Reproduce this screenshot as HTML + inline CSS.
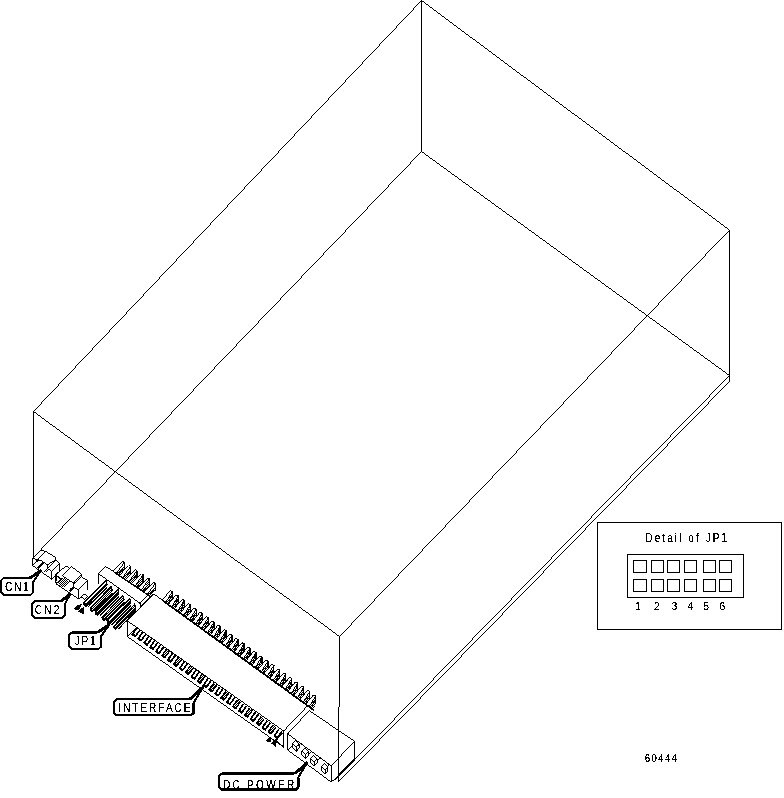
<!DOCTYPE html>
<html><head><meta charset="utf-8"><title>60444</title>
<style>
html,body{margin:0;padding:0;background:#fff;}
body{width:784px;height:798px;overflow:hidden;font-family:"Liberation Sans",sans-serif;}
svg{display:block;}
svg text{font-family:"Liberation Sans",sans-serif;fill:#000;stroke:none;}
</style></head><body>
<svg width="784" height="798" viewBox="0 0 784 798">
<defs><filter id="bw" x="0" y="0" width="100%" height="100%" color-interpolation-filters="sRGB"><feColorMatrix type="saturate" values="0"/><feComponentTransfer><feFuncR type="discrete" tableValues="0 0 1 1"/><feFuncG type="discrete" tableValues="0 0 1 1"/><feFuncB type="discrete" tableValues="0 0 1 1"/></feComponentTransfer></filter><filter id="ta" x="0" y="0" width="100%" height="100%" color-interpolation-filters="sRGB"><feComponentTransfer><feFuncA type="discrete" tableValues="0 0 0 0 1 1 1 1 1 1"/></feComponentTransfer></filter><pattern id="d" width="2" height="2" patternUnits="userSpaceOnUse"><rect x="0" y="0" width="1" height="1" fill="#000"/><rect x="1" y="1" width="1" height="1" fill="#000"/></pattern></defs>
<g filter="url(#bw)">
<rect width="784" height="798" fill="#fff"/>
<g stroke="#000" fill="none" stroke-linecap="butt">
<polygon points="421.50,0.50 729.50,230.00 339.50,636.50 33.50,411.50" stroke-width="1" fill="none" />
<line x1="421.50" y1="0.50" x2="421.50" y2="151.50" stroke-width="1" />
<line x1="729.50" y1="230.00" x2="729.50" y2="381.50" stroke-width="1" />
<polyline points="339.50,636.50 339.50,707.00 338.50,707.00 338.50,782.00" stroke-width="1" fill="none" />
<line x1="33.50" y1="411.50" x2="33.50" y2="558.00" stroke-width="1" />
<line x1="421.50" y1="151.50" x2="729.50" y2="375.50" stroke-width="1" />
<line x1="421.50" y1="151.50" x2="32.60" y2="558.30" stroke-width="1" />
<line x1="729.50" y1="381.50" x2="338.50" y2="782.00" stroke-width="1" />
<line x1="729.50" y1="375.50" x2="335.00" y2="780.00" stroke-width="1" />
<polyline points="32.34,558.37 32.34,565.41 51.47,579.08 51.47,571.02 47.39,568.72 47.39,564.90" stroke-width="1" fill="none" />
<polyline points="32.34,558.37 40.76,560.31 47.39,564.90 55.55,559.80" stroke-width="1" fill="none" />
<polyline points="38.20,558.78 45.09,551.38" stroke-width="1" fill="none" />
<polyline points="40.50,550.61 45.35,551.12 55.55,557.24 55.55,560.31 59.63,563.11 59.63,571.53" stroke-width="1" fill="none" />
<polyline points="32.34,565.41 37.44,560.56" stroke-width="1" fill="none" />
<polyline points="51.47,571.02 59.63,563.27" stroke-width="1" fill="none" />
<polyline points="51.47,579.08 58.61,572.55" stroke-width="1" fill="none" />
<polyline points="48.15,567.45 55.81,560.56" stroke-width="1" fill="none" />
<polyline points="44.33,571.53 48.41,567.70" stroke-width="1" fill="none" />
<polyline points="45.45,572.81 49.53,568.98" stroke-width="1" fill="none" />
<polyline points="37.69,568.21 43.31,562.86" stroke-width="2.2" fill="none" />
<polyline points="35.65,560.82 38.71,561.07" stroke-width="1.6" fill="none" />
<polyline points="55.97,574.13 55.97,583.70 78.61,599.01 78.61,589.76 73.51,586.89 73.51,583.06" stroke-width="1" fill="none" />
<polyline points="55.97,574.13 65.86,566.16 69.05,567.44" stroke-width="1" fill="none" />
<polyline points="62.35,575.73 71.28,566.35 81.48,574.13 81.48,577.00 87.54,580.19 87.54,589.76" stroke-width="1" fill="none" />
<polyline points="62.35,575.73 73.51,583.06 81.48,574.45" stroke-width="1" fill="none" />
<polyline points="74.15,584.34 82.12,575.73" stroke-width="1" fill="none" />
<polyline points="78.61,589.76 87.54,580.51" stroke-width="1" fill="none" />
<polyline points="78.61,599.01 83.71,593.90 87.54,596.14 84.99,599.64 81.16,597.09" stroke-width="1" fill="none" />
<polyline points="56.29,576.05 60.76,579.23 56.29,583.38" stroke-width="1" fill="none" />
<polyline points="57.57,583.70 63.94,577.32" stroke-width="0.9" fill="none" />
<polyline points="58.71,584.46 65.09,578.09" stroke-width="0.9" fill="none" />
<polyline points="59.80,585.23 66.18,578.85" stroke-width="0.9" fill="none" />
<polyline points="60.95,585.99 67.32,579.62" stroke-width="0.9" fill="none" />
<polyline points="62.03,586.76 68.41,580.38" stroke-width="0.9" fill="none" />
<polyline points="63.18,587.53 69.56,581.15" stroke-width="0.9" fill="none" />
<polyline points="64.26,588.29 70.64,581.91" stroke-width="0.9" fill="none" />
<polyline points="65.41,589.06 71.79,582.68" stroke-width="0.9" fill="none" />
<polyline points="69.36,591.35 73.51,586.89" stroke-width="2.2" fill="none" />
<polyline points="60.44,578.47 62.35,579.11" stroke-width="1.6" fill="none" />
<polyline points="53.51,577.65 55.81,574.85 55.81,580.71" stroke-width="1" fill="none" />
<polyline points="55.81,574.85 60.65,578.16" stroke-width="1" fill="none" />
<polygon points="106.10,580.70 107.10,584.50 85.90,605.90 84.40,602.10" stroke-width="1.3" fill="#fff" />
<line x1="106.70" y1="584.20" x2="85.60" y2="605.60" stroke-width="2.5" />
<line x1="107.30" y1="587.50" x2="88.00" y2="606.90" stroke-width="1.3" />
<polyline points="83.90,602.10 84.40,605.30 86.40,606.50" stroke-width="1.8" fill="none" />
<polygon points="111.00,586.55 112.20,590.75 92.50,610.95 90.50,608.15" stroke-width="1.3" fill="url(#d)"  shape-rendering="crispEdges"/>
<line x1="112.60" y1="592.75" x2="94.50" y2="611.35" stroke-width="1.3" />
<polyline points="90.30,607.95 90.90,610.55 92.70,611.15" stroke-width="1.8" fill="none" />
<polygon points="117.90,589.60 118.90,593.40 97.70,614.80 96.20,611.00" stroke-width="1.3" fill="#fff" />
<line x1="118.50" y1="593.10" x2="97.40" y2="614.50" stroke-width="2.5" />
<line x1="119.10" y1="596.40" x2="99.80" y2="615.80" stroke-width="1.3" />
<polyline points="95.70,611.00 96.20,614.20 98.20,615.40" stroke-width="1.8" fill="none" />
<polygon points="122.80,595.45 124.00,599.65 104.30,619.85 102.30,617.05" stroke-width="1.3" fill="url(#d)"  shape-rendering="crispEdges"/>
<line x1="124.40" y1="601.65" x2="106.30" y2="620.25" stroke-width="1.3" />
<polyline points="102.10,616.85 102.70,619.45 104.50,620.05" stroke-width="1.8" fill="none" />
<polygon points="129.70,598.50 130.70,602.30 109.50,623.70 108.00,619.90" stroke-width="1.3" fill="#fff" />
<line x1="130.30" y1="602.00" x2="109.20" y2="623.40" stroke-width="2.5" />
<line x1="130.90" y1="605.30" x2="111.60" y2="624.70" stroke-width="1.3" />
<polyline points="107.50,619.90 108.00,623.10 110.00,624.30" stroke-width="1.8" fill="none" />
<polygon points="134.60,604.35 135.80,608.55 116.10,628.75 114.10,625.95" stroke-width="1.3" fill="url(#d)"  shape-rendering="crispEdges"/>
<line x1="136.20" y1="610.55" x2="118.10" y2="629.15" stroke-width="1.3" />
<polyline points="113.90,625.75 114.50,628.35 116.30,628.95" stroke-width="1.8" fill="none" />
<polygon points="116.50,573.40 124.50,564.50 124.50,569.90 119.30,575.30" stroke-width="0" fill="url(#d)" stroke="none" shape-rendering="crispEdges"/>
<polygon points="113.10,571.10 122.60,561.30 124.50,562.00 116.50,573.40" stroke-width="1.0" fill="#fff" />
<polyline points="124.50,562.00 124.50,569.90" stroke-width="1.3" fill="none" />
<polyline points="118.50,574.30 123.70,567.50" stroke-width="0.9" fill="none" />
<line x1="114.60" y1="572.30" x2="120.10" y2="576.10" stroke-width="1.6" />
<polygon points="122.70,577.60 130.70,568.70 130.70,574.10 125.50,579.50" stroke-width="0" fill="url(#d)" stroke="none" shape-rendering="crispEdges"/>
<polygon points="119.30,575.30 128.80,565.50 130.70,566.20 122.70,577.60" stroke-width="1.0" fill="#fff" />
<polyline points="130.70,566.20 130.70,574.10" stroke-width="1.3" fill="none" />
<polyline points="124.70,578.50 129.90,571.70" stroke-width="0.9" fill="none" />
<line x1="120.80" y1="576.50" x2="126.30" y2="580.30" stroke-width="1.6" />
<polygon points="128.90,581.80 136.90,572.90 136.90,578.30 131.70,583.70" stroke-width="0" fill="url(#d)" stroke="none" shape-rendering="crispEdges"/>
<polygon points="125.50,579.50 135.00,569.70 136.90,570.40 128.90,581.80" stroke-width="1.0" fill="#fff" />
<polyline points="136.90,570.40 136.90,578.30" stroke-width="1.3" fill="none" />
<polyline points="130.90,582.70 136.10,575.90" stroke-width="0.9" fill="none" />
<line x1="127.00" y1="580.70" x2="132.50" y2="584.50" stroke-width="1.6" />
<polygon points="135.10,586.00 143.10,577.10 143.10,582.50 137.90,587.90" stroke-width="0" fill="url(#d)" stroke="none" shape-rendering="crispEdges"/>
<polygon points="131.70,583.70 141.20,573.90 143.10,574.60 135.10,586.00" stroke-width="1.0" fill="#fff" />
<polyline points="143.10,574.60 143.10,582.50" stroke-width="1.3" fill="none" />
<polyline points="137.10,586.90 142.30,580.10" stroke-width="0.9" fill="none" />
<line x1="133.20" y1="584.90" x2="138.70" y2="588.70" stroke-width="1.6" />
<polygon points="141.30,590.20 149.30,581.30 149.30,586.70 144.10,592.10" stroke-width="0" fill="url(#d)" stroke="none" shape-rendering="crispEdges"/>
<polygon points="137.90,587.90 147.40,578.10 149.30,578.80 141.30,590.20" stroke-width="1.0" fill="#fff" />
<polyline points="149.30,578.80 149.30,586.70" stroke-width="1.3" fill="none" />
<polyline points="143.30,591.10 148.50,584.30" stroke-width="0.9" fill="none" />
<line x1="139.40" y1="589.10" x2="144.90" y2="592.90" stroke-width="1.6" />
<polygon points="147.50,594.40 155.50,585.50 155.50,590.90 150.30,596.30" stroke-width="0" fill="url(#d)" stroke="none" shape-rendering="crispEdges"/>
<polygon points="144.10,592.10 153.60,582.30 155.50,583.00 147.50,594.40" stroke-width="1.0" fill="#fff" />
<polyline points="155.50,583.00 155.50,590.90" stroke-width="1.3" fill="none" />
<polyline points="149.50,595.30 154.70,588.50" stroke-width="0.9" fill="none" />
<line x1="145.60" y1="593.30" x2="151.10" y2="597.10" stroke-width="1.6" />
<polyline points="98.10,573.40 105.60,566.50 113.10,571.10" stroke-width="1" fill="none" />
<polyline points="98.10,573.40 140.10,603.40 146.90,596.30" stroke-width="1" fill="none" />
<line x1="98.10" y1="573.40" x2="98.10" y2="584.00" stroke-width="1" />
<line x1="140.10" y1="603.40" x2="140.10" y2="607.00" stroke-width="1" />
<line x1="140.80" y1="606.40" x2="153.60" y2="593.80" stroke-width="1" />
<polygon points="165.80,602.30 172.30,593.20 172.30,598.80 170.40,605.50" stroke-width="0" fill="url(#d)" stroke="none" shape-rendering="crispEdges"/>
<line x1="168.80" y1="602.50" x2="171.10" y2="596.00" stroke-width="1.0" />
<polygon points="162.40,599.90 170.10,590.60 172.30,591.60 165.80,602.30" stroke-width="1.0" fill="#fff" />
<line x1="172.30" y1="591.10" x2="172.30" y2="599.00" stroke-width="1.2" />
<line x1="163.90" y1="601.30" x2="170.60" y2="606.00" stroke-width="1.8" />
<polygon points="171.78,606.64 178.28,597.54 178.28,603.14 176.38,609.84" stroke-width="0" fill="url(#d)" stroke="none" shape-rendering="crispEdges"/>
<line x1="174.78" y1="606.84" x2="177.07" y2="600.34" stroke-width="1.0" />
<polygon points="168.38,604.24 176.07,594.94 178.28,595.94 171.78,606.64" stroke-width="1.0" fill="#fff" />
<line x1="178.28" y1="595.44" x2="178.28" y2="603.34" stroke-width="1.2" />
<line x1="169.88" y1="605.64" x2="176.57" y2="610.34" stroke-width="1.8" />
<polygon points="177.75,610.98 184.25,601.88 184.25,607.48 182.35,614.18" stroke-width="0" fill="url(#d)" stroke="none" shape-rendering="crispEdges"/>
<line x1="180.75" y1="611.18" x2="183.05" y2="604.68" stroke-width="1.0" />
<polygon points="174.35,608.58 182.05,599.28 184.25,600.28 177.75,610.98" stroke-width="1.0" fill="#fff" />
<line x1="184.25" y1="599.78" x2="184.25" y2="607.68" stroke-width="1.2" />
<line x1="175.85" y1="609.98" x2="182.55" y2="614.68" stroke-width="1.8" />
<polygon points="183.73,615.32 190.23,606.23 190.23,611.83 188.33,618.52" stroke-width="0" fill="url(#d)" stroke="none" shape-rendering="crispEdges"/>
<line x1="186.73" y1="615.52" x2="189.03" y2="609.02" stroke-width="1.0" />
<polygon points="180.33,612.92 188.03,603.62 190.23,604.62 183.73,615.32" stroke-width="1.0" fill="#fff" />
<line x1="190.23" y1="604.12" x2="190.23" y2="612.02" stroke-width="1.2" />
<line x1="181.83" y1="614.32" x2="188.53" y2="619.02" stroke-width="1.8" />
<polygon points="189.70,619.67 196.20,610.57 196.20,616.17 194.30,622.87" stroke-width="0" fill="url(#d)" stroke="none" shape-rendering="crispEdges"/>
<line x1="192.70" y1="619.87" x2="195.00" y2="613.37" stroke-width="1.0" />
<polygon points="186.30,617.27 194.00,607.97 196.20,608.97 189.70,619.67" stroke-width="1.0" fill="#fff" />
<line x1="196.20" y1="608.47" x2="196.20" y2="616.37" stroke-width="1.2" />
<line x1="187.80" y1="618.67" x2="194.50" y2="623.37" stroke-width="1.8" />
<polygon points="195.68,624.01 202.18,614.91 202.18,620.51 200.28,627.21" stroke-width="0" fill="url(#d)" stroke="none" shape-rendering="crispEdges"/>
<line x1="198.68" y1="624.21" x2="200.97" y2="617.71" stroke-width="1.0" />
<polygon points="192.28,621.61 199.97,612.31 202.18,613.31 195.68,624.01" stroke-width="1.0" fill="#fff" />
<line x1="202.18" y1="612.81" x2="202.18" y2="620.71" stroke-width="1.2" />
<line x1="193.78" y1="623.01" x2="200.47" y2="627.71" stroke-width="1.8" />
<polygon points="201.65,628.35 208.15,619.25 208.15,624.85 206.25,631.55" stroke-width="0" fill="url(#d)" stroke="none" shape-rendering="crispEdges"/>
<line x1="204.65" y1="628.55" x2="206.95" y2="622.05" stroke-width="1.0" />
<polygon points="198.25,625.95 205.95,616.65 208.15,617.65 201.65,628.35" stroke-width="1.0" fill="#fff" />
<line x1="208.15" y1="617.15" x2="208.15" y2="625.05" stroke-width="1.2" />
<line x1="199.75" y1="627.35" x2="206.45" y2="632.05" stroke-width="1.8" />
<polygon points="207.63,632.69 214.13,623.59 214.13,629.19 212.23,635.89" stroke-width="0" fill="url(#d)" stroke="none" shape-rendering="crispEdges"/>
<line x1="210.63" y1="632.89" x2="212.93" y2="626.39" stroke-width="1.0" />
<polygon points="204.23,630.29 211.93,620.99 214.13,621.99 207.63,632.69" stroke-width="1.0" fill="#fff" />
<line x1="214.13" y1="621.49" x2="214.13" y2="629.39" stroke-width="1.2" />
<line x1="205.73" y1="631.69" x2="212.43" y2="636.39" stroke-width="1.8" />
<polygon points="213.60,637.03 220.10,627.93 220.10,633.53 218.20,640.23" stroke-width="0" fill="url(#d)" stroke="none" shape-rendering="crispEdges"/>
<line x1="216.60" y1="637.23" x2="218.90" y2="630.73" stroke-width="1.0" />
<polygon points="210.20,634.63 217.90,625.33 220.10,626.33 213.60,637.03" stroke-width="1.0" fill="#fff" />
<line x1="220.10" y1="625.83" x2="220.10" y2="633.73" stroke-width="1.2" />
<line x1="211.70" y1="636.03" x2="218.40" y2="640.73" stroke-width="1.8" />
<polygon points="219.58,641.37 226.08,632.27 226.08,637.88 224.18,644.57" stroke-width="0" fill="url(#d)" stroke="none" shape-rendering="crispEdges"/>
<line x1="222.58" y1="641.57" x2="224.88" y2="635.07" stroke-width="1.0" />
<polygon points="216.18,638.97 223.88,629.67 226.08,630.67 219.58,641.37" stroke-width="1.0" fill="#fff" />
<line x1="226.08" y1="630.17" x2="226.08" y2="638.07" stroke-width="1.2" />
<line x1="217.68" y1="640.37" x2="224.38" y2="645.07" stroke-width="1.8" />
<polygon points="225.55,645.72 232.05,636.62 232.05,642.22 230.15,648.92" stroke-width="0" fill="url(#d)" stroke="none" shape-rendering="crispEdges"/>
<line x1="228.55" y1="645.92" x2="230.85" y2="639.42" stroke-width="1.0" />
<polygon points="222.15,643.32 229.85,634.02 232.05,635.02 225.55,645.72" stroke-width="1.0" fill="#fff" />
<line x1="232.05" y1="634.52" x2="232.05" y2="642.42" stroke-width="1.2" />
<line x1="223.65" y1="644.72" x2="230.35" y2="649.42" stroke-width="1.8" />
<polygon points="231.53,650.06 238.03,640.96 238.03,646.56 236.12,653.26" stroke-width="0" fill="url(#d)" stroke="none" shape-rendering="crispEdges"/>
<line x1="234.53" y1="650.26" x2="236.82" y2="643.76" stroke-width="1.0" />
<polygon points="228.12,647.66 235.82,638.36 238.03,639.36 231.53,650.06" stroke-width="1.0" fill="#fff" />
<line x1="238.03" y1="638.86" x2="238.03" y2="646.76" stroke-width="1.2" />
<line x1="229.62" y1="649.06" x2="236.32" y2="653.76" stroke-width="1.8" />
<polygon points="237.50,654.40 244.00,645.30 244.00,650.90 242.10,657.60" stroke-width="0" fill="url(#d)" stroke="none" shape-rendering="crispEdges"/>
<line x1="240.50" y1="654.60" x2="242.80" y2="648.10" stroke-width="1.0" />
<polygon points="234.10,652.00 241.80,642.70 244.00,643.70 237.50,654.40" stroke-width="1.0" fill="#fff" />
<line x1="244.00" y1="643.20" x2="244.00" y2="651.10" stroke-width="1.2" />
<line x1="235.60" y1="653.40" x2="242.30" y2="658.10" stroke-width="1.8" />
<polygon points="243.47,658.74 249.97,649.64 249.97,655.24 248.07,661.94" stroke-width="0" fill="url(#d)" stroke="none" shape-rendering="crispEdges"/>
<line x1="246.47" y1="658.94" x2="248.77" y2="652.44" stroke-width="1.0" />
<polygon points="240.07,656.34 247.77,647.04 249.97,648.04 243.47,658.74" stroke-width="1.0" fill="#fff" />
<line x1="249.97" y1="647.54" x2="249.97" y2="655.44" stroke-width="1.2" />
<line x1="241.57" y1="657.74" x2="248.27" y2="662.44" stroke-width="1.8" />
<polygon points="249.45,663.08 255.95,653.98 255.95,659.58 254.05,666.28" stroke-width="0" fill="url(#d)" stroke="none" shape-rendering="crispEdges"/>
<line x1="252.45" y1="663.28" x2="254.75" y2="656.78" stroke-width="1.0" />
<polygon points="246.05,660.68 253.75,651.38 255.95,652.38 249.45,663.08" stroke-width="1.0" fill="#fff" />
<line x1="255.95" y1="651.88" x2="255.95" y2="659.78" stroke-width="1.2" />
<line x1="247.55" y1="662.08" x2="254.25" y2="666.78" stroke-width="1.8" />
<polygon points="255.42,667.42 261.92,658.33 261.92,663.93 260.02,670.62" stroke-width="0" fill="url(#d)" stroke="none" shape-rendering="crispEdges"/>
<line x1="258.42" y1="667.62" x2="260.72" y2="661.12" stroke-width="1.0" />
<polygon points="252.02,665.02 259.72,655.73 261.92,656.73 255.42,667.42" stroke-width="1.0" fill="#fff" />
<line x1="261.92" y1="656.23" x2="261.92" y2="664.12" stroke-width="1.2" />
<line x1="253.52" y1="666.42" x2="260.22" y2="671.12" stroke-width="1.8" />
<polygon points="261.40,671.77 267.90,662.67 267.90,668.27 266.00,674.97" stroke-width="0" fill="url(#d)" stroke="none" shape-rendering="crispEdges"/>
<line x1="264.40" y1="671.97" x2="266.70" y2="665.47" stroke-width="1.0" />
<polygon points="258.00,669.37 265.70,660.07 267.90,661.07 261.40,671.77" stroke-width="1.0" fill="#fff" />
<line x1="267.90" y1="660.57" x2="267.90" y2="668.47" stroke-width="1.2" />
<line x1="259.50" y1="670.77" x2="266.20" y2="675.47" stroke-width="1.8" />
<polygon points="267.38,676.11 273.88,667.01 273.88,672.61 271.98,679.31" stroke-width="0" fill="url(#d)" stroke="none" shape-rendering="crispEdges"/>
<line x1="270.38" y1="676.31" x2="272.68" y2="669.81" stroke-width="1.0" />
<polygon points="263.98,673.71 271.68,664.41 273.88,665.41 267.38,676.11" stroke-width="1.0" fill="#fff" />
<line x1="273.88" y1="664.91" x2="273.88" y2="672.81" stroke-width="1.2" />
<line x1="265.48" y1="675.11" x2="272.18" y2="679.81" stroke-width="1.8" />
<polygon points="273.35,680.45 279.85,671.35 279.85,676.95 277.95,683.65" stroke-width="0" fill="url(#d)" stroke="none" shape-rendering="crispEdges"/>
<line x1="276.35" y1="680.65" x2="278.65" y2="674.15" stroke-width="1.0" />
<polygon points="269.95,678.05 277.65,668.75 279.85,669.75 273.35,680.45" stroke-width="1.0" fill="#fff" />
<line x1="279.85" y1="669.25" x2="279.85" y2="677.15" stroke-width="1.2" />
<line x1="271.45" y1="679.45" x2="278.15" y2="684.15" stroke-width="1.8" />
<polygon points="279.32,684.79 285.82,675.69 285.82,681.29 283.93,687.99" stroke-width="0" fill="url(#d)" stroke="none" shape-rendering="crispEdges"/>
<line x1="282.32" y1="684.99" x2="284.62" y2="678.49" stroke-width="1.0" />
<polygon points="275.93,682.39 283.62,673.09 285.82,674.09 279.32,684.79" stroke-width="1.0" fill="#fff" />
<line x1="285.82" y1="673.59" x2="285.82" y2="681.49" stroke-width="1.2" />
<line x1="277.43" y1="683.79" x2="284.12" y2="688.49" stroke-width="1.8" />
<polygon points="285.30,689.13 291.80,680.03 291.80,685.63 289.90,692.33" stroke-width="0" fill="url(#d)" stroke="none" shape-rendering="crispEdges"/>
<line x1="288.30" y1="689.33" x2="290.60" y2="682.83" stroke-width="1.0" />
<polygon points="281.90,686.73 289.60,677.43 291.80,678.43 285.30,689.13" stroke-width="1.0" fill="#fff" />
<line x1="291.80" y1="677.93" x2="291.80" y2="685.83" stroke-width="1.2" />
<line x1="283.40" y1="688.13" x2="290.10" y2="692.83" stroke-width="1.8" />
<polygon points="291.27,693.47 297.77,684.38 297.77,689.98 295.88,696.67" stroke-width="0" fill="url(#d)" stroke="none" shape-rendering="crispEdges"/>
<line x1="294.27" y1="693.67" x2="296.57" y2="687.17" stroke-width="1.0" />
<polygon points="287.88,691.07 295.57,681.77 297.77,682.77 291.27,693.47" stroke-width="1.0" fill="#fff" />
<line x1="297.77" y1="682.27" x2="297.77" y2="690.17" stroke-width="1.2" />
<line x1="289.38" y1="692.47" x2="296.07" y2="697.17" stroke-width="1.8" />
<polygon points="297.25,697.82 303.75,688.72 303.75,694.32 301.85,701.02" stroke-width="0" fill="url(#d)" stroke="none" shape-rendering="crispEdges"/>
<line x1="300.25" y1="698.02" x2="302.55" y2="691.52" stroke-width="1.0" />
<polygon points="293.85,695.42 301.55,686.12 303.75,687.12 297.25,697.82" stroke-width="1.0" fill="#fff" />
<line x1="303.75" y1="686.62" x2="303.75" y2="694.52" stroke-width="1.2" />
<line x1="295.35" y1="696.82" x2="302.05" y2="701.52" stroke-width="1.8" />
<polygon points="303.23,702.16 309.73,693.06 309.73,698.66 307.83,705.36" stroke-width="0" fill="url(#d)" stroke="none" shape-rendering="crispEdges"/>
<line x1="306.23" y1="702.36" x2="308.53" y2="695.86" stroke-width="1.0" />
<polygon points="299.83,699.76 307.53,690.46 309.73,691.46 303.23,702.16" stroke-width="1.0" fill="#fff" />
<line x1="309.73" y1="690.96" x2="309.73" y2="698.86" stroke-width="1.2" />
<line x1="301.33" y1="701.16" x2="308.03" y2="705.86" stroke-width="1.8" />
<polygon points="309.20,706.50 315.70,697.40 315.70,703.00 313.80,709.70" stroke-width="0" fill="url(#d)" stroke="none" shape-rendering="crispEdges"/>
<line x1="312.20" y1="706.70" x2="314.50" y2="700.20" stroke-width="1.0" />
<polygon points="305.80,704.10 313.50,694.80 315.70,695.80 309.20,706.50" stroke-width="1.0" fill="#fff" />
<line x1="315.70" y1="695.30" x2="315.70" y2="703.20" stroke-width="1.2" />
<line x1="307.30" y1="705.50" x2="314.00" y2="710.20" stroke-width="1.8" />
<polyline points="127.30,620.80 153.80,594.00 164.00,601.40" stroke-width="1" fill="none" />
<polyline points="127.30,620.80 283.70,731.00 307.50,705.80" stroke-width="1" fill="none" />
<line x1="127.30" y1="620.80" x2="127.30" y2="636.60" stroke-width="1" />
<line x1="127.30" y1="636.60" x2="283.70" y2="747.10" stroke-width="1" />
<line x1="283.70" y1="731.00" x2="283.70" y2="747.10" stroke-width="1" />
<line x1="127.30" y1="636.60" x2="136.50" y2="627.60" stroke-width="1" />
<polyline points="137.10,627.60 132.50,634.30 135.30,636.40 140.10,629.70" stroke-width="1.7" fill="none" />
<line x1="132.10" y1="634.00" x2="135.30" y2="636.50" stroke-width="1.9" />
<polyline points="143.01,631.83 138.41,638.53 141.21,640.63 146.01,633.93" stroke-width="1.7" fill="none" />
<line x1="138.01" y1="638.23" x2="141.21" y2="640.73" stroke-width="1.9" />
<polyline points="148.92,636.07 144.32,642.77 147.12,644.87 151.92,638.17" stroke-width="1.7" fill="none" />
<line x1="143.92" y1="642.47" x2="147.12" y2="644.97" stroke-width="1.9" />
<polyline points="154.84,640.30 150.24,647.00 153.04,649.10 157.84,642.40" stroke-width="1.7" fill="none" />
<line x1="149.84" y1="646.70" x2="153.04" y2="649.20" stroke-width="1.9" />
<polyline points="160.75,644.53 156.15,651.23 158.95,653.33 163.75,646.63" stroke-width="1.7" fill="none" />
<line x1="155.75" y1="650.93" x2="158.95" y2="653.43" stroke-width="1.9" />
<polygon points="166.66,648.77 162.06,655.47 164.86,657.57 169.66,650.87" stroke-width="0" fill="url(#d)" stroke="none" shape-rendering="crispEdges"/>
<polyline points="166.66,648.77 162.06,655.47 164.86,657.57 169.66,650.87" stroke-width="1.4" fill="none" />
<line x1="161.66" y1="655.17" x2="164.86" y2="657.67" stroke-width="1.9" />
<polyline points="172.57,653.00 167.97,659.70 170.77,661.80 175.57,655.10" stroke-width="1.7" fill="none" />
<line x1="167.57" y1="659.40" x2="170.77" y2="661.90" stroke-width="1.9" />
<polygon points="178.49,657.23 173.89,663.93 176.69,666.03 181.49,659.33" stroke-width="0" fill="url(#d)" stroke="none" shape-rendering="crispEdges"/>
<polyline points="178.49,657.23 173.89,663.93 176.69,666.03 181.49,659.33" stroke-width="1.4" fill="none" />
<line x1="173.49" y1="663.63" x2="176.69" y2="666.13" stroke-width="1.9" />
<polyline points="184.40,661.47 179.80,668.17 182.60,670.27 187.40,663.57" stroke-width="1.7" fill="none" />
<line x1="179.40" y1="667.87" x2="182.60" y2="670.37" stroke-width="1.9" />
<polygon points="190.31,665.70 185.71,672.40 188.51,674.50 193.31,667.80" stroke-width="0" fill="url(#d)" stroke="none" shape-rendering="crispEdges"/>
<polyline points="190.31,665.70 185.71,672.40 188.51,674.50 193.31,667.80" stroke-width="1.4" fill="none" />
<line x1="185.31" y1="672.10" x2="188.51" y2="674.60" stroke-width="1.9" />
<polyline points="196.22,669.93 191.62,676.63 194.42,678.73 199.22,672.03" stroke-width="1.7" fill="none" />
<line x1="191.22" y1="676.33" x2="194.42" y2="678.83" stroke-width="1.9" />
<polygon points="202.14,674.17 197.54,680.87 200.34,682.97 205.14,676.27" stroke-width="0" fill="url(#d)" stroke="none" shape-rendering="crispEdges"/>
<polyline points="202.14,674.17 197.54,680.87 200.34,682.97 205.14,676.27" stroke-width="1.4" fill="none" />
<line x1="197.14" y1="680.57" x2="200.34" y2="683.07" stroke-width="1.9" />
<polyline points="208.05,678.40 203.45,685.10 206.25,687.20 211.05,680.50" stroke-width="1.7" fill="none" />
<line x1="203.05" y1="684.80" x2="206.25" y2="687.30" stroke-width="1.9" />
<polygon points="213.96,682.63 209.36,689.33 212.16,691.43 216.96,684.73" stroke-width="0" fill="url(#d)" stroke="none" shape-rendering="crispEdges"/>
<polyline points="213.96,682.63 209.36,689.33 212.16,691.43 216.96,684.73" stroke-width="1.4" fill="none" />
<line x1="208.96" y1="689.03" x2="212.16" y2="691.53" stroke-width="1.9" />
<polyline points="219.88,686.87 215.28,693.57 218.07,695.67 222.88,688.97" stroke-width="1.7" fill="none" />
<line x1="214.88" y1="693.27" x2="218.07" y2="695.77" stroke-width="1.9" />
<polygon points="225.79,691.10 221.19,697.80 223.99,699.90 228.79,693.20" stroke-width="0" fill="url(#d)" stroke="none" shape-rendering="crispEdges"/>
<polyline points="225.79,691.10 221.19,697.80 223.99,699.90 228.79,693.20" stroke-width="1.4" fill="none" />
<line x1="220.79" y1="697.50" x2="223.99" y2="700.00" stroke-width="1.9" />
<polyline points="231.70,695.33 227.10,702.03 229.90,704.13 234.70,697.43" stroke-width="1.7" fill="none" />
<line x1="226.70" y1="701.73" x2="229.90" y2="704.23" stroke-width="1.9" />
<polygon points="237.61,699.57 233.01,706.27 235.81,708.37 240.61,701.67" stroke-width="0" fill="url(#d)" stroke="none" shape-rendering="crispEdges"/>
<polyline points="237.61,699.57 233.01,706.27 235.81,708.37 240.61,701.67" stroke-width="1.4" fill="none" />
<line x1="232.61" y1="705.97" x2="235.81" y2="708.47" stroke-width="1.9" />
<polyline points="243.53,703.80 238.93,710.50 241.72,712.60 246.53,705.90" stroke-width="1.7" fill="none" />
<line x1="238.53" y1="710.20" x2="241.72" y2="712.70" stroke-width="1.9" />
<polygon points="249.44,708.03 244.84,714.73 247.64,716.83 252.44,710.13" stroke-width="0" fill="url(#d)" stroke="none" shape-rendering="crispEdges"/>
<polyline points="249.44,708.03 244.84,714.73 247.64,716.83 252.44,710.13" stroke-width="1.4" fill="none" />
<line x1="244.44" y1="714.43" x2="247.64" y2="716.93" stroke-width="1.9" />
<polyline points="255.35,712.27 250.75,718.97 253.55,721.07 258.35,714.37" stroke-width="1.7" fill="none" />
<line x1="250.35" y1="718.67" x2="253.55" y2="721.17" stroke-width="1.9" />
<polygon points="261.26,716.50 256.66,723.20 259.46,725.30 264.26,718.60" stroke-width="0" fill="url(#d)" stroke="none" shape-rendering="crispEdges"/>
<polyline points="261.26,716.50 256.66,723.20 259.46,725.30 264.26,718.60" stroke-width="1.4" fill="none" />
<line x1="256.26" y1="722.90" x2="259.46" y2="725.40" stroke-width="1.9" />
<polyline points="267.18,720.73 262.57,727.43 265.38,729.53 270.18,722.83" stroke-width="1.7" fill="none" />
<line x1="262.18" y1="727.13" x2="265.38" y2="729.63" stroke-width="1.9" />
<polygon points="273.09,724.97 268.49,731.67 271.29,733.77 276.09,727.07" stroke-width="0" fill="url(#d)" stroke="none" shape-rendering="crispEdges"/>
<polyline points="273.09,724.97 268.49,731.67 271.29,733.77 276.09,727.07" stroke-width="1.4" fill="none" />
<line x1="268.09" y1="731.37" x2="271.29" y2="733.87" stroke-width="1.9" />
<polyline points="279.00,729.20 274.40,735.90 277.20,738.00 282.00,731.30" stroke-width="1.7" fill="none" />
<line x1="274.00" y1="735.60" x2="277.20" y2="738.10" stroke-width="1.9" />
<polygon points="74.00,608.20 77.00,606.00 81.50,604.00 78.80,609.60 75.50,610.00" stroke-width="0.5" fill="#000" />
<polygon points="78.20,611.20 83.80,606.80 83.20,614.80 81.20,612.80" stroke-width="0.5" fill="#000" />
<polygon points="266.20,740.20 270.20,737.20 270.80,741.40 268.00,742.00" stroke-width="0.5" fill="#000" />
<polygon points="271.00,743.40 276.20,738.80 275.60,747.00 273.80,744.60" stroke-width="0.5" fill="#000" />
<line x1="283.50" y1="732.20" x2="276.40" y2="740.20" stroke-width="1" />
<line x1="276.40" y1="740.20" x2="283.50" y2="747.00" stroke-width="1" />
<polygon points="287.70,733.90 309.20,710.60 354.40,741.20 331.30,766.00" stroke-width="1" fill="none" />
<line x1="287.70" y1="733.90" x2="287.70" y2="750.00" stroke-width="1" />
<line x1="331.30" y1="766.00" x2="331.30" y2="782.10" stroke-width="1" />
<line x1="287.70" y1="750.00" x2="331.30" y2="782.10" stroke-width="1" />
<line x1="354.40" y1="741.20" x2="354.40" y2="760.00" stroke-width="1" />
<line x1="354.40" y1="760.00" x2="338.40" y2="775.50" stroke-width="2" />
<line x1="331.30" y1="782.10" x2="338.40" y2="775.50" stroke-width="1" />
<line x1="297.75" y1="747.34" x2="300.81" y2="743.36" stroke-width="1" />
<line x1="306.40" y1="755.76" x2="312.13" y2="750.86" stroke-width="1" />
<line x1="315.81" y1="762.18" x2="321.32" y2="757.44" stroke-width="1" />
<line x1="287.65" y1="750.25" x2="292.62" y2="745.66" stroke-width="1" />
<line x1="325.91" y1="767.85" x2="330.11" y2="763.64" stroke-width="1" />
<polygon points="292.62,743.75 295.42,740.75 299.22,743.95 299.22,748.15 296.42,751.25 292.62,747.95" stroke-width="1" fill="#fff" />
<polyline points="292.62,743.75 296.42,747.15 299.22,743.95" stroke-width="1" fill="none" />
<line x1="296.42" y1="747.15" x2="296.42" y2="751.25" stroke-width="1" />
<polygon points="301.81,751.01 304.61,748.01 308.41,751.21 308.41,755.41 305.61,758.51 301.81,755.21" stroke-width="1" fill="#fff" />
<polyline points="301.81,751.01 305.61,754.41 308.41,751.21" stroke-width="1" fill="none" />
<line x1="305.61" y1="754.41" x2="305.61" y2="758.51" stroke-width="1" />
<polygon points="310.60,758.66 313.40,755.66 317.20,758.86 317.20,763.06 314.40,766.16 310.60,762.86" stroke-width="1" fill="#fff" />
<polyline points="310.60,758.66 314.40,762.06 317.20,758.86" stroke-width="1" fill="none" />
<line x1="314.40" y1="762.06" x2="314.40" y2="766.16" stroke-width="1" />
<polygon points="321.32,766.70 324.12,763.70 327.92,766.90 327.92,771.10 325.12,774.20 321.32,770.90" stroke-width="1" fill="#fff" />
<polyline points="321.32,766.70 325.12,770.10 327.92,766.90" stroke-width="1" fill="none" />
<line x1="325.12" y1="770.10" x2="325.12" y2="774.20" stroke-width="1" />
<polygon points="3.50,578.00 28.90,578.00 41.00,570.30 33.40,581.50 33.40,592.20 30.90,594.70 3.50,594.70 1.00,592.20 1.00,580.50" stroke-width="2" fill="#fff" stroke-linejoin="miter"/>
<line x1="30.10" y1="578.30" x2="41.00" y2="570.30" stroke-width="2.6" />
<polygon points="34.80,601.20 60.10,601.20 70.50,593.60 64.60,604.70 64.60,615.30 62.10,617.80 34.80,617.80 32.30,615.30 32.30,603.70" stroke-width="2" fill="#fff" stroke-linejoin="miter"/>
<line x1="61.30" y1="601.50" x2="70.50" y2="593.60" stroke-width="2.6" />
<polygon points="71.70,632.40 96.80,632.40 109.50,624.30 101.30,635.90 101.30,646.30 98.80,648.80 71.70,648.80 69.20,646.30 69.20,634.90" stroke-width="2" fill="#fff" stroke-linejoin="miter"/>
<line x1="98.00" y1="632.70" x2="109.50" y2="624.30" stroke-width="2.6" />
<polygon points="116.60,699.10 189.30,699.10 203.20,686.80 193.80,702.60 193.80,712.80 191.30,715.30 116.60,715.30 114.10,712.80 114.10,701.60" stroke-width="2" fill="#fff" stroke-linejoin="miter"/>
<line x1="190.50" y1="699.40" x2="203.20" y2="686.80" stroke-width="2.6" />
<line x1="192.20" y1="703.10" x2="192.20" y2="713.30" stroke-width="1.2" />
<line x1="116.60" y1="713.90" x2="191.30" y2="713.90" stroke-width="0.792" />
<polygon points="221.60,773.40 294.00,773.40 307.50,762.30 298.50,776.90 298.50,787.20 296.00,789.70 221.60,789.70 219.10,787.20 219.10,775.90" stroke-width="2" fill="#fff" stroke-linejoin="miter"/>
<line x1="295.20" y1="773.70" x2="307.50" y2="762.30" stroke-width="2.6" />
<line x1="297.00" y1="777.40" x2="297.00" y2="787.70" stroke-width="1.0" />
<line x1="221.60" y1="788.37" x2="296.00" y2="788.37" stroke-width="0.66" />
<rect x="597.5" y="522.5" width="184" height="106.5" fill="none" stroke-width="1"/>
<rect x="627.5" y="554.5" width="116" height="43" fill="none" stroke-width="1"/>
<rect x="633.5" y="560.5" width="13.0" height="12.0" fill="none" stroke-width="1"/>
<rect x="633.5" y="579.5" width="13.0" height="12.0" fill="none" stroke-width="1"/>
<rect x="651.5" y="560.5" width="12.0" height="12.0" fill="none" stroke-width="1"/>
<rect x="651.5" y="579.5" width="12.0" height="12.0" fill="none" stroke-width="1"/>
<rect x="667.5" y="560.5" width="12.0" height="12.0" fill="none" stroke-width="1"/>
<rect x="667.5" y="579.5" width="12.0" height="12.0" fill="none" stroke-width="1"/>
<rect x="684.5" y="560.5" width="12.0" height="12.0" fill="none" stroke-width="1"/>
<rect x="684.5" y="579.5" width="12.0" height="12.0" fill="none" stroke-width="1"/>
<rect x="703.5" y="560.5" width="12.0" height="12.0" fill="none" stroke-width="1"/>
<rect x="703.5" y="579.5" width="12.0" height="12.0" fill="none" stroke-width="1"/>
<rect x="719.5" y="560.5" width="12.0" height="12.0" fill="none" stroke-width="1"/>
<rect x="719.5" y="579.5" width="12.0" height="12.0" fill="none" stroke-width="1"/>
</g>
</g>
<g filter="url(#ta)">
<text transform="translate(4.90,590.80) scale(0.8,1)" x="0" y="0" font-size="12.6" textLength="29.63" lengthAdjust="spacing">CN1</text>
<text transform="translate(34.80,613.60) scale(0.8,1)" x="0" y="0" font-size="12.6" textLength="30.75" lengthAdjust="spacing">CN2</text>
<text transform="translate(74.80,644.70) scale(0.8,1)" x="0" y="0" font-size="12.6" textLength="26.13" lengthAdjust="spacing">JP1</text>
<text transform="translate(118.30,711.80) scale(0.8,1)" x="0" y="0" font-size="12.6" textLength="90.37" lengthAdjust="spacing">INTERFACE</text>
<text transform="translate(222.90,788.60) scale(0.8,1)" x="0" y="0" font-size="12.6" textLength="89.12" lengthAdjust="spacing">DC POWER</text>
<text transform="translate(645.40,541.60) scale(0.8,1)" x="0" y="0" font-size="12.4" textLength="102.00" lengthAdjust="spacing">Detail of JP1</text>
<text x="637.90" y="610.40" font-size="10.4" text-anchor="middle">1</text>
<text x="656.80" y="610.40" font-size="10.4" text-anchor="middle">2</text>
<text x="674.40" y="610.40" font-size="10.4" text-anchor="middle">3</text>
<text x="690.50" y="610.40" font-size="10.4" text-anchor="middle">4</text>
<text x="706.20" y="610.40" font-size="10.4" text-anchor="middle">5</text>
<text x="722.50" y="610.40" font-size="10.4" text-anchor="middle">6</text>
<text transform="translate(644.80,761.70) scale(0.9,1)" x="0" y="0" font-size="10.7" textLength="35.89" lengthAdjust="spacing">60444</text>
</g>
</svg>
</body></html>
